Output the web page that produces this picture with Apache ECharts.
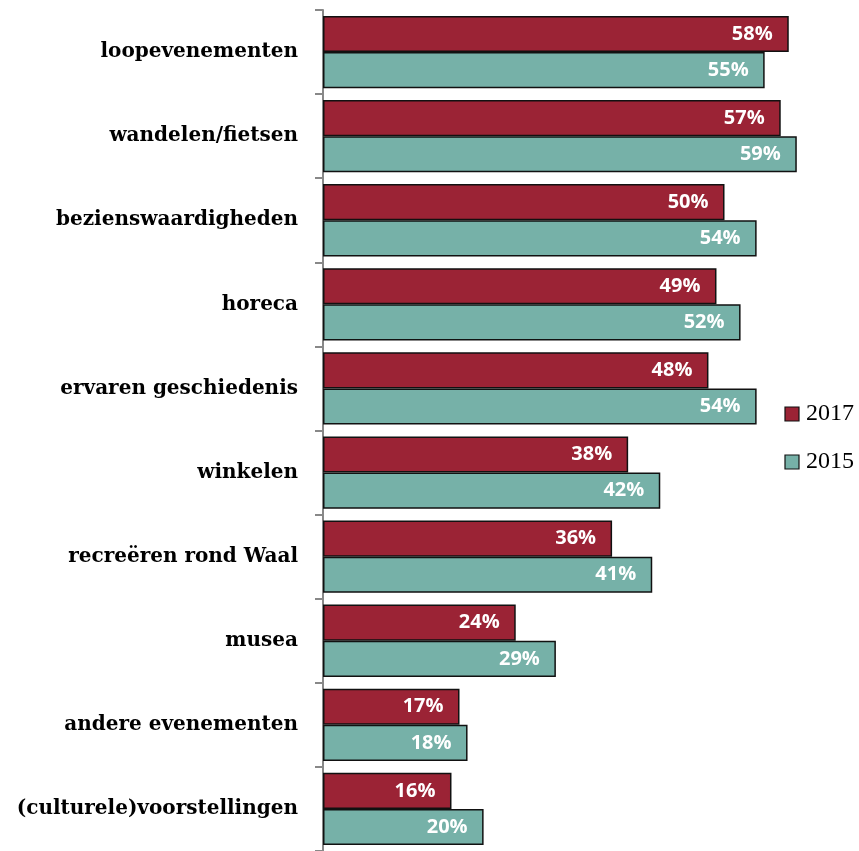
<!DOCTYPE html>
<html>
<head>
<meta charset="utf-8">
<script src="https://cdn.jsdelivr.net/npm/echarts@6/dist/echarts.min.js"></script>
<style>
  html, body { margin: 0; padding: 0; background: #ffffff; }
  #chart { width: 859px; height: 851px; }
</style>
</head>
<body>
<div id="chart"></div>
<script>
// Activities, top to bottom
const categories = [
  'loopevenementen',
  'wandelen/fietsen',
  'bezienswaardigheden',
  'horeca',
  'ervaren geschiedenis',
  'winkelen',
  'recreëren rond Waal',
  'musea',
  'andere evenementen',
  '(culturele)voorstellingen'
];
// Share of respondents (%) per year
const values2017 = [58, 57, 50, 49, 48, 38, 36, 24, 17, 16];
const values2015 = [55, 59, 54, 52, 54, 42, 41, 29, 18, 20];
const seriesNames = ['2017', '2015'];

const colors = ['#9B2335', '#76B1A8'];
const serifFont = '"DejaVu Serif", "Liberation Serif", serif';
const legendFont = '"Liberation Serif", "DejaVu Serif", serif';
const sansFont = '"Open Sans", "Noto Sans", sans-serif';

const chart = echarts.init(document.getElementById('chart'));

function barSeries(name, data, color) {
  return {
    name: name,
    type: 'bar',
    data: data,
    barGap: '0%',
    barCategoryGap: '14%',
    itemStyle: { color: color, borderColor: '#111', borderWidth: 1.5 },
    label: {
      show: true,
      position: 'insideRight',
      distance: 16,
      formatter: '{c}%',
      color: '#ffffff',
      fontFamily: sansFont,
      fontWeight: 'bold',
      fontSize: 20
    }
  };
}

chart.setOption({
  animation: false,
  backgroundColor: '#ffffff',
  grid: { left: 323, right: 6, top: 10, bottom: 0, containLabel: false },
  legend: {
    orient: 'vertical',
    right: 0,
    top: 397,
    itemWidth: 14,
    itemHeight: 14,
    itemGap: 24,
    icon: 'rect',
    textStyle: { fontFamily: legendFont, fontSize: 24, color: '#000', padding: [0, 0, 0, 2] },
    itemStyle: { borderColor: '#111', borderWidth: 1.2 },
    data: seriesNames
  },
  xAxis: {
    type: 'value',
    min: 0,
    max: 66,
    show: false
  },
  yAxis: {
    type: 'category',
    inverse: true,
    data: categories,
    axisLine: { show: true, lineStyle: { color: '#888', width: 2 } },
    axisTick: { show: true, length: 8, lineStyle: { color: '#888', width: 2 } },
    axisLabel: {
      margin: 25,
      color: '#000',
      fontFamily: serifFont,
      fontWeight: 'bold',
      fontSize: 20
    }
  },
  series: [
    barSeries(seriesNames[0], values2017, colors[0]),
    barSeries(seriesNames[1], values2015, colors[1])
  ]
});
</script>
</body>
</html>
